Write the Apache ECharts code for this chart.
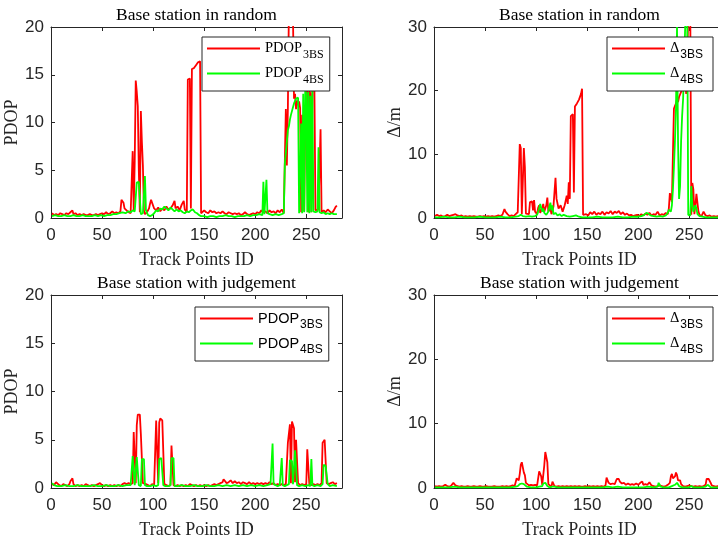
<!DOCTYPE html>
<html>
<head>
<meta charset="utf-8">
<title>PDOP and positioning error</title>
<script src="https://cdn.jsdelivr.net/npm/echarts@6/dist/echarts.min.js"></script>
<style>
  html, body { margin: 0; padding: 0; background: #fff; }
  #main { width: 718px; height: 538px; }
</style>
</head>
<body>
<div id="main"></div>
<script>
// axis ranges and ticks
var xTicks = { min: 0, max: 285, interval: 50 };
var pdopTicks = { min: 0, max: 20, interval: 5 };
var deltaTicks = { min: 0, max: 30, interval: 10 };
var titles = ['Base station in random', 'Base station in random', 'Base station with judgement', 'Base station with judgement'];

// PDOP, base station in random  [track point id, value]
var pdop3Random = [[1,0.5],[3,0.3],[5,0.4],[7,0.3],[9,0.5],[11,0.4],[13,0.3],[15,0.5],[17,0.4],[19,0.6],[21,0.8],[22,0.4],[24,0.5],[26,0.3],[28,0.4],[30,0.3],[32,0.4],[34,0.3],[36,0.3],[38,0.4],[40,0.3],[42,0.3],[44,0.4],[46,0.3],[48,0.4],[50,0.5],[52,0.4],[54,0.6],[56,0.4],[58,0.5],[60,0.7],[62,0.5],[64,0.6],[66,0.5],[68,0.7],[69,1.9],[71,1.6],[72,1.0],[74,0.8],[76,0.6],[78,0.5],[79,0.6],[80,7.0],[81,0.8],[82,6.0],[83,14.4],[84,13.2],[85,11.7],[86,5.0],[87,0.6],[88,11.2],[89,8.0],[90,5.5],[91,0.8],[92,0.4],[94,0.6],[96,1.0],[97,1.5],[98,1.9],[99,1.7],[101,1.0],[103,0.8],[105,1.1],[107,0.7],[109,1.0],[111,0.8],[113,1.2],[115,0.9],[117,1.0],[119,1.3],[121,1.8],[122,1.0],[124,1.2],[126,0.8],[128,1.4],[130,1.8],[131,0.9],[133,0.6],[134,14.5],[135,14.7],[136,14.6],[137,1.0],[138,15.6],[139,15.8],[140,15.7],[142,16.0],[144,16.3],[145,16.5],[146,16.4],[147,0.5],[148,0.3],[150,0.8],[152,0.6],[154,0.5],[156,0.8],[158,0.6],[160,0.7],[162,0.5],[164,0.6],[166,0.5],[168,0.7],[170,0.5],[172,0.4],[174,0.6],[176,0.5],[178,0.4],[180,0.5],[182,0.4],[184,0.5],[186,0.3],[188,0.4],[190,0.6],[192,0.4],[194,0.3],[196,0.4],[198,0.5],[200,0.4],[202,0.6],[204,0.5],[206,0.8],[208,0.6],[210,0.7],[212,0.5],[214,0.8],[216,0.6],[218,0.7],[220,0.5],[222,0.8],[224,0.6],[226,0.9],[228,0.5],[229,0.7],[230,11.4],[231,5.5],[232,11.6],[233,22],[235,22],[237,21],[238,12.5],[239,13.0],[240,11.4],[241,12.3],[242,11.8],[243,12.2],[244,11.5],[245,0.6],[246,10.8],[247,11.0],[248,0.7],[249,10.6],[250,13.2],[251,13.7],[252,0.6],[253,13.4],[254,13.0],[255,0.6],[256,13.5],[257,13.6],[258,13.3],[259,0.8],[260,0.6],[262,0.9],[263,0.7],[264,9.3],[265,0.6],[267,0.8],[269,0.6],[271,0.9],[273,0.7],[275,0.5],[277,0.8],[279,1.2],[280,1.3]];
var pdop4Random = [[1,0.2],[4,0.3],[7,0.2],[10,0.2],[13,0.3],[16,0.2],[19,0.2],[22,0.3],[25,0.2],[28,0.2],[31,0.3],[34,0.2],[37,0.2],[40,0.2],[43,0.3],[46,0.2],[49,0.3],[52,0.2],[55,0.3],[58,0.3],[61,0.4],[64,0.4],[67,0.5],[70,0.6],[73,0.5],[76,0.7],[78,0.6],[80,0.8],[82,0.7],[83,0.5],[84,3.7],[86,3.8],[87,3.6],[88,0.4],[90,0.5],[91,0.6],[92,4.4],[93,0.8],[95,0.3],[97,0.2],[99,0.3],[101,0.5],[103,0.8],[105,0.7],[107,1.0],[109,0.9],[111,1.2],[113,1.0],[115,0.8],[117,1.1],[119,0.9],[121,0.7],[123,0.9],[125,0.7],[127,0.8],[129,0.6],[131,0.5],[133,0.7],[135,0.6],[137,0.8],[139,0.9],[141,0.6],[143,0.5],[145,0.3],[147,0.2],[150,0.2],[153,0.1],[156,0.2],[159,0.2],[162,0.1],[165,0.2],[168,0.2],[171,0.3],[174,0.2],[177,0.2],[180,0.1],[183,0.2],[186,0.2],[189,0.2],[192,0.3],[195,0.2],[198,0.3],[201,0.3],[204,0.4],[207,0.3],[208,3.8],[209,0.4],[210,0.5],[211,4.0],[212,0.5],[214,0.4],[217,0.3],[220,0.4],[223,0.3],[226,0.4],[228,0.5],[229,5.7],[230,5.9],[231,8.0],[232,9.2],[233,9.6],[234,10.3],[235,10.8],[236,11.0],[237,11.6],[238,12.0],[239,12.2],[240,12.5],[241,12.7],[242,12.6],[243,0.5],[244,0.6],[245,9.9],[246,0.5],[247,13.0],[248,0.6],[249,13.4],[250,13.0],[251,0.6],[252,13.2],[253,0.5],[254,12.8],[255,0.6],[256,13.4],[257,0.7],[259,0.6],[261,0.7],[262,7.4],[263,0.6],[265,0.5],[267,0.6],[269,0.4],[271,0.5],[273,0.4],[275,0.5],[277,0.4],[280,0.4]];

// positioning error, base station in random
var delta3Random = [[1,0.3],[3,0.5],[5,0.3],[7,0.4],[9,0.2],[11,0.3],[13,0.5],[15,0.3],[17,0.4],[19,0.5],[21,0.6],[23,0.4],[25,0.3],[27,0.4],[29,0.2],[31,0.3],[33,0.2],[35,0.3],[37,0.2],[39,0.3],[41,0.2],[43,0.2],[45,0.3],[47,0.2],[49,0.3],[51,0.2],[53,0.3],[55,0.2],[57,0.3],[59,0.2],[61,0.3],[63,0.4],[65,0.3],[67,0.5],[69,1.4],[70,1.0],[72,0.6],[74,0.3],[76,0.4],[78,0.3],[80,0.6],[82,0.9],[83,1.0],[84,11.6],[85,11.0],[86,0.6],[87,0.8],[88,11.0],[89,8.0],[90,0.7],[91,0.5],[93,0.6],[94,2.5],[95,2.8],[96,2.6],[97,1.2],[98,2.8],[99,1.0],[101,0.6],[102,1.6],[103,2.0],[104,0.8],[106,1.5],[107,2.2],[108,1.0],[110,2.0],[111,3.2],[112,1.0],[114,1.5],[115,0.6],[117,1.8],[119,6.3],[120,3.0],[121,3.2],[122,1.5],[124,2.0],[126,1.0],[128,2.0],[130,3.5],[131,2.2],[132,5.6],[133,3.0],[134,16.0],[135,16.2],[136,16.3],[137,4.0],[138,17.5],[139,17.8],[140,18.0],[142,18.6],[144,19.5],[145,20.3],[146,0.5],[147,0.3],[149,0.6],[151,0.4],[153,0.9],[155,0.6],[157,1.0],[159,0.5],[161,0.8],[163,0.6],[165,1.0],[167,0.5],[169,0.9],[171,0.7],[173,1.1],[175,0.6],[177,1.0],[179,0.8],[181,1.1],[183,0.6],[185,0.9],[187,0.5],[189,0.7],[191,0.4],[193,0.5],[195,0.3],[197,0.4],[199,0.5],[201,0.3],[203,0.6],[205,0.4],[207,0.7],[209,0.5],[211,0.8],[213,0.4],[215,0.6],[217,0.5],[219,1.0],[221,0.4],[223,0.6],[225,0.5],[227,0.8],[229,0.6],[230,1.5],[231,3.9],[232,4.0],[233,2.5],[234,10.0],[235,17.2],[236,17.4],[237,18.0],[238,18.6],[239,18.2],[240,19.0],[241,19.4],[242,19.8],[243,20.0],[244,20.5],[245,22],[246,21.5],[247,19.5],[248,25],[249,32],[250,32],[251,32],[252,0.5],[253,5.5],[254,4.5],[255,0.6],[256,2.0],[257,3.8],[258,3.6],[259,1.0],[260,0.5],[262,0.3],[264,1.0],[266,0.4],[268,0.3],[270,0.4],[272,0.2],[274,0.3],[276,0.2],[278,0.3],[280,0.2]];
var delta4Random = [[1,0.1],[5,0.1],[10,0.2],[15,0.1],[20,0.1],[25,0.2],[30,0.1],[35,0.1],[40,0.1],[45,0.2],[50,0.1],[55,0.1],[60,0.1],[65,0.2],[70,0.1],[75,0.1],[80,0.2],[83,0.3],[85,0.5],[87,0.3],[90,0.2],[93,0.3],[96,0.2],[99,0.3],[101,0.5],[103,1.5],[104,2.2],[105,2.0],[106,1.0],[107,1.5],[108,0.8],[110,0.5],[112,1.0],[113,1.8],[114,2.4],[115,1.2],[116,2.0],[117,0.6],[119,0.8],[121,0.4],[123,0.6],[125,0.3],[127,0.5],[130,0.3],[133,0.2],[136,0.3],[139,0.4],[142,0.2],[145,0.1],[150,0.1],[155,0.1],[160,0.2],[165,0.1],[170,0.1],[175,0.1],[180,0.2],[185,0.1],[190,0.1],[195,0.2],[200,0.2],[203,0.3],[206,0.5],[208,0.8],[210,0.7],[212,0.4],[215,0.3],[218,0.2],[221,0.3],[224,0.2],[227,0.4],[229,0.8],[230,1.3],[232,1.0],[233,2.0],[234,4.5],[235,8.1],[236,12.2],[237,17.2],[238,30],[239,12.0],[240,3.0],[241,5.0],[242,12.0],[243,16.0],[244,18.8],[245,18.5],[246,30],[247,30],[248,32],[249,0.5],[250,0.3],[251,0.4],[252,5.0],[253,2.0],[254,1.0],[255,0.8],[256,2.0],[257,1.5],[258,0.6],[260,0.3],[263,0.2],[266,0.1],[270,0.1],[275,0.1],[280,0.1]];

// PDOP, base station with judgement
var pdop3Judge = [[1,0.4],[3,0.3],[5,0.6],[6,0.5],[8,0.3],[10,0.2],[12,0.4],[14,0.3],[16,0.2],[18,0.4],[19,0.7],[20,0.8],[21,1.0],[22,0.4],[24,0.2],[26,0.3],[28,0.2],[30,0.3],[32,0.2],[34,0.4],[36,0.3],[38,0.2],[40,0.3],[42,0.2],[44,0.3],[46,0.4],[48,0.5],[50,0.3],[52,0.2],[54,0.3],[56,0.2],[58,0.3],[60,0.2],[62,0.3],[64,0.2],[66,0.3],[68,0.2],[70,0.4],[72,0.5],[74,0.4],[76,0.5],[78,0.4],[80,0.5],[81,5.8],[82,5.6],[83,0.5],[84,6.5],[85,7.6],[86,7.8],[87,7.6],[88,5.6],[89,5.4],[90,0.5],[91,0.3],[93,0.4],[95,0.3],[97,0.2],[99,0.4],[101,0.3],[102,0.5],[103,7.0],[104,6.9],[105,0.5],[106,6.8],[107,7.2],[108,7.1],[109,7.0],[110,6.9],[111,0.4],[113,0.3],[115,0.2],[117,0.3],[118,4.4],[119,4.2],[120,0.3],[122,0.2],[124,0.3],[126,0.2],[128,0.3],[130,0.2],[132,0.3],[134,0.2],[136,0.4],[138,0.3],[140,0.2],[142,0.3],[144,0.2],[146,0.3],[148,0.2],[150,0.3],[152,0.2],[154,0.3],[156,0.2],[158,0.3],[160,0.4],[162,0.3],[164,0.4],[166,0.5],[168,0.6],[169,0.9],[170,0.8],[172,0.5],[174,0.6],[176,0.8],[178,0.5],[180,0.7],[182,0.5],[184,0.6],[186,0.4],[188,0.6],[190,0.5],[192,0.4],[194,0.6],[196,0.4],[198,0.5],[200,0.4],[202,0.5],[204,0.4],[206,0.5],[208,0.4],[210,0.5],[212,0.4],[214,0.6],[216,0.4],[218,0.5],[220,0.3],[222,0.4],[224,0.3],[226,0.4],[228,0.3],[230,0.4],[231,0.5],[232,4.7],[233,4.6],[234,6.6],[235,0.5],[236,6.9],[237,6.8],[238,6.2],[239,0.6],[240,5.0],[241,5.2],[242,0.5],[244,0.3],[246,0.4],[248,0.3],[250,0.4],[251,4.0],[252,3.9],[253,0.4],[255,0.3],[257,0.4],[259,0.3],[261,0.4],[263,0.3],[265,0.5],[266,4.7],[267,4.6],[268,5.0],[269,4.9],[270,0.5],[272,0.4],[274,0.5],[276,0.6],[278,0.4],[280,0.5]];
var pdop4Judge = [[1,0.5],[3,0.3],[6,0.2],[10,0.2],[14,0.3],[18,0.2],[22,0.2],[26,0.3],[30,0.2],[34,0.2],[38,0.2],[42,0.3],[46,0.2],[50,0.2],[54,0.3],[58,0.2],[62,0.2],[66,0.3],[70,0.2],[74,0.3],[78,0.3],[79,0.2],[80,3.3],[81,3.2],[82,0.3],[84,3.2],[85,3.1],[86,0.3],[88,0.2],[89,3.0],[90,2.9],[91,3.0],[92,0.3],[94,0.2],[97,0.2],[100,0.3],[103,0.2],[105,0.3],[106,3.0],[107,3.2],[108,3.1],[109,3.0],[110,0.3],[112,0.2],[115,0.2],[117,0.3],[118,3.1],[119,3.2],[120,3.1],[121,0.2],[124,0.2],[128,0.3],[132,0.2],[136,0.2],[140,0.3],[144,0.2],[148,0.2],[152,0.3],[156,0.2],[160,0.2],[164,0.3],[168,0.2],[172,0.3],[176,0.2],[180,0.3],[184,0.2],[188,0.3],[192,0.2],[196,0.3],[200,0.2],[204,0.3],[208,0.2],[212,0.3],[215,0.4],[216,0.3],[217,4.6],[218,0.4],[220,0.3],[222,0.2],[224,0.3],[225,0.2],[226,3.1],[227,0.3],[229,0.2],[231,0.3],[233,0.4],[234,2.9],[235,3.0],[236,2.8],[237,0.4],[238,0.6],[239,3.9],[240,4.0],[241,0.3],[243,0.2],[246,0.3],[249,0.2],[252,0.3],[254,0.2],[255,3.0],[256,0.3],[258,0.2],[261,0.3],[264,0.2],[266,0.4],[267,2.4],[268,2.4],[269,2.3],[270,2.4],[271,0.4],[273,0.2],[276,0.3],[280,0.2]];

// positioning error, base station with judgement
var delta3Judge = [[1,0.3],[3,0.2],[5,0.3],[7,0.2],[9,0.3],[11,0.5],[13,0.3],[15,0.2],[17,0.4],[19,0.8],[20,0.7],[21,0.4],[23,0.3],[25,0.2],[27,0.3],[29,0.2],[31,0.2],[33,0.3],[35,0.2],[37,0.2],[39,0.3],[41,0.2],[43,0.2],[45,0.3],[47,0.2],[49,0.2],[51,0.3],[53,0.2],[55,0.2],[57,0.2],[59,0.3],[61,0.2],[63,0.2],[65,0.2],[67,0.3],[69,0.2],[71,0.3],[73,0.2],[75,0.3],[77,0.4],[79,0.3],[80,0.6],[81,1.5],[82,1.6],[83,1.2],[84,2.2],[85,3.6],[86,4.0],[87,3.8],[88,2.4],[89,2.0],[90,0.8],[91,0.5],[93,0.4],[95,0.5],[97,0.4],[99,0.5],[101,0.4],[102,0.6],[103,2.6],[104,2.8],[105,1.8],[106,0.5],[107,0.8],[108,3.5],[109,5.6],[110,5.8],[111,4.0],[112,0.6],[113,0.3],[115,0.2],[116,1.0],[117,1.2],[118,0.3],[120,0.2],[122,0.3],[124,0.2],[126,0.3],[128,0.2],[130,0.3],[132,0.2],[134,0.3],[136,0.2],[138,0.3],[140,0.2],[142,0.3],[144,0.2],[146,0.2],[148,0.3],[150,0.2],[152,0.3],[154,0.2],[156,0.3],[158,0.2],[160,0.3],[162,0.2],[164,0.3],[166,0.2],[168,0.4],[169,1.6],[170,1.4],[171,0.8],[173,0.6],[175,0.7],[177,0.6],[179,1.4],[180,1.2],[181,1.4],[182,1.0],[184,0.7],[186,0.8],[188,0.5],[190,0.7],[192,0.5],[194,0.6],[196,0.5],[198,0.7],[200,0.5],[202,0.8],[204,1.0],[205,0.5],[207,0.6],[209,0.5],[211,0.9],[212,1.0],[213,0.4],[215,0.3],[217,0.2],[219,0.3],[221,0.4],[223,0.3],[225,0.2],[227,0.3],[229,0.5],[231,0.8],[232,1.8],[233,2.2],[234,1.5],[235,1.2],[236,1.8],[237,2.4],[238,2.0],[239,1.2],[240,1.4],[241,1.2],[242,0.6],[244,0.3],[246,0.2],[248,0.3],[250,0.4],[252,0.3],[254,0.2],[256,0.3],[258,0.2],[260,0.3],[262,0.2],[264,0.3],[266,0.5],[267,1.4],[268,1.3],[269,1.4],[270,1.2],[271,0.8],[272,0.4],[274,0.3],[276,0.2],[278,0.3],[280,0.2]];
var delta4Judge = [[1,0.1],[5,0.1],[10,0.1],[15,0.1],[20,0.2],[25,0.1],[30,0.1],[35,0.1],[40,0.1],[45,0.1],[50,0.1],[55,0.1],[60,0.1],[65,0.1],[70,0.1],[75,0.1],[80,0.2],[81,0.5],[82,0.3],[84,0.6],[86,0.7],[87,0.4],[88,0.6],[89,0.3],[91,0.2],[95,0.1],[100,0.1],[103,0.2],[106,0.3],[107,0.7],[108,0.8],[109,0.8],[110,0.7],[111,0.3],[113,0.1],[116,0.2],[117,0.5],[118,0.2],[121,0.1],[125,0.1],[130,0.1],[135,0.1],[140,0.1],[145,0.1],[150,0.1],[155,0.1],[160,0.1],[165,0.1],[170,0.2],[175,0.1],[180,0.2],[185,0.1],[190,0.1],[195,0.1],[200,0.1],[205,0.1],[210,0.2],[215,0.1],[219,0.2],[220,0.8],[221,0.9],[222,0.2],[225,0.1],[230,0.1],[233,0.3],[236,0.5],[238,0.8],[239,0.6],[240,0.3],[243,0.1],[246,0.1],[250,0.1],[252,0.3],[254,0.1],[258,0.1],[262,0.1],[266,0.2],[268,0.5],[269,0.4],[271,0.1],[275,0.1],[280,0.1]];

var AXIS = '#262626';
var SANS = 'Liberation Sans, Arial, sans-serif';
var SERIF = 'Liberation Serif, Times New Roman, serif';
var RED = '#ff0000';
var GREEN = '#00ff00';

var grids = [
  { left: 51, top: 27, width: 291, height: 191 },
  { left: 434, top: 27, width: 291, height: 191 },
  { left: 51, top: 295, width: 291, height: 193 },
  { left: 434, top: 295, width: 291, height: 193 }
];

function xAxisFor(g, pos) {
  var bottom = pos === 'bottom';
  return {
    type: 'value', gridIndex: g, position: pos,
    min: xTicks.min, max: xTicks.max, interval: xTicks.interval,
    name: bottom ? 'Track Points ID' : titles[g],
    nameLocation: 'middle', nameGap: bottom ? 33 : 3,
    nameTextStyle: { fontFamily: SERIF, fontSize: bottom ? 18 : 17.5, color: bottom ? AXIS : '#000' },
    axisLine: { show: true, onZero: false, lineStyle: { color: AXIS, width: 1 } },
    axisTick: { show: true, inside: true, length: 4, lineStyle: { color: AXIS } },
    axisLabel: { show: bottom, showMaxLabel: false, margin: 9, fontFamily: SANS, fontSize: 17, color: AXIS },
    splitLine: { show: false }
  };
}

function yAxisFor(g, pos, ticks, name) {
  var left = pos === 'left';
  return {
    type: 'value', gridIndex: g, position: pos,
    min: ticks.min, max: ticks.max, interval: ticks.interval,
    name: left ? name : '', nameLocation: 'middle', nameGap: 27,
    nameTextStyle: { fontFamily: SERIF, fontSize: 18, color: AXIS },
    axisLine: { show: true, onZero: false, lineStyle: { color: AXIS, width: 1 } },
    axisTick: { show: true, inside: true, length: 4, lineStyle: { color: AXIS } },
    axisLabel: { show: left, margin: 7, fontFamily: SANS, fontSize: 17, color: AXIS },
    splitLine: { show: false }
  };
}

function lineSeries(name, g, data, color) {
  return {
    name: name, type: 'line', xAxisIndex: 2 * g, yAxisIndex: 2 * g,
    data: data, showSymbol: false, symbol: 'none',
    lineStyle: { color: color, width: 1.8 }, itemStyle: { color: color },
    emphasis: { disabled: true }
  };
}

function legendFor(left, top, names, mainFont, subFont, padRight) {
  return {
    left: left, top: top, orient: 'vertical', selectedMode: false,
    data: names, icon: 'rect', itemWidth: 53, itemHeight: 2, itemGap: 5,
    padding: [4, padRight, 5, 5], borderColor: AXIS, borderWidth: 1, backgroundColor: '#fff',
    formatter: function (n) {
      var p = n.split('_');
      return '{m|' + p[0] + '}{s|' + p[1] + '}';
    },
    textStyle: {
      color: '#000',
      rich: {
        m: { fontFamily: mainFont, fontSize: 14.5, lineHeight: 25, color: '#000' },
        s: { fontFamily: subFont, fontSize: 12, lineHeight: 12, verticalAlign: 'bottom', color: '#000', padding: [0, 0, 0, 1] }
      }
    }
  };
}

var chart = echarts.init(document.getElementById('main'), null, { renderer: 'canvas' });

chart.setOption({
  animation: false,
  backgroundColor: '#fff',
  grid: grids.map(function (g) {
    return { left: g.left, top: g.top, width: g.width, height: g.height, outerBoundsMode: 'none', show: false };
  }),
  xAxis: [0, 1, 2, 3].reduce(function (a, g) {
    return a.concat([xAxisFor(g, 'bottom'), xAxisFor(g, 'top')]);
  }, []),
  yAxis: [0, 1, 2, 3].reduce(function (a, g) {
    var t = g % 2 === 0 ? pdopTicks : deltaTicks;
    var n = g % 2 === 0 ? 'PDOP' : 'Δ/m';
    return a.concat([yAxisFor(g, 'left', t, n), yAxisFor(g, 'right', t, n)]);
  }, []),
  legend: [
    legendFor(202, 37, ['PDOP_3BS', 'PDOP_4BS'], SERIF, SERIF, 6),
    legendFor(607, 37, ['Δ_3BS', 'Δ_4BS'], SERIF, SANS, 10),
    legendFor(195, 307, ['PDOP_3BS', 'PDOP_4BS'], SANS, SANS, 6),
    legendFor(607, 307, ['Δ_3BS', 'Δ_4BS'], SERIF, SANS, 10)
  ],
  series: [
    lineSeries('PDOP_3BS', 0, pdop3Random, RED),
    lineSeries('PDOP_4BS', 0, pdop4Random, GREEN),
    lineSeries('Δ_3BS', 1, delta3Random, RED),
    lineSeries('Δ_4BS', 1, delta4Random, GREEN),
    lineSeries('PDOP_3BS', 2, pdop3Judge, RED),
    lineSeries('PDOP_4BS', 2, pdop4Judge, GREEN),
    lineSeries('Δ_3BS', 3, delta3Judge, RED),
    lineSeries('Δ_4BS', 3, delta4Judge, GREEN)
  ]
});
</script>
</body>
</html>
